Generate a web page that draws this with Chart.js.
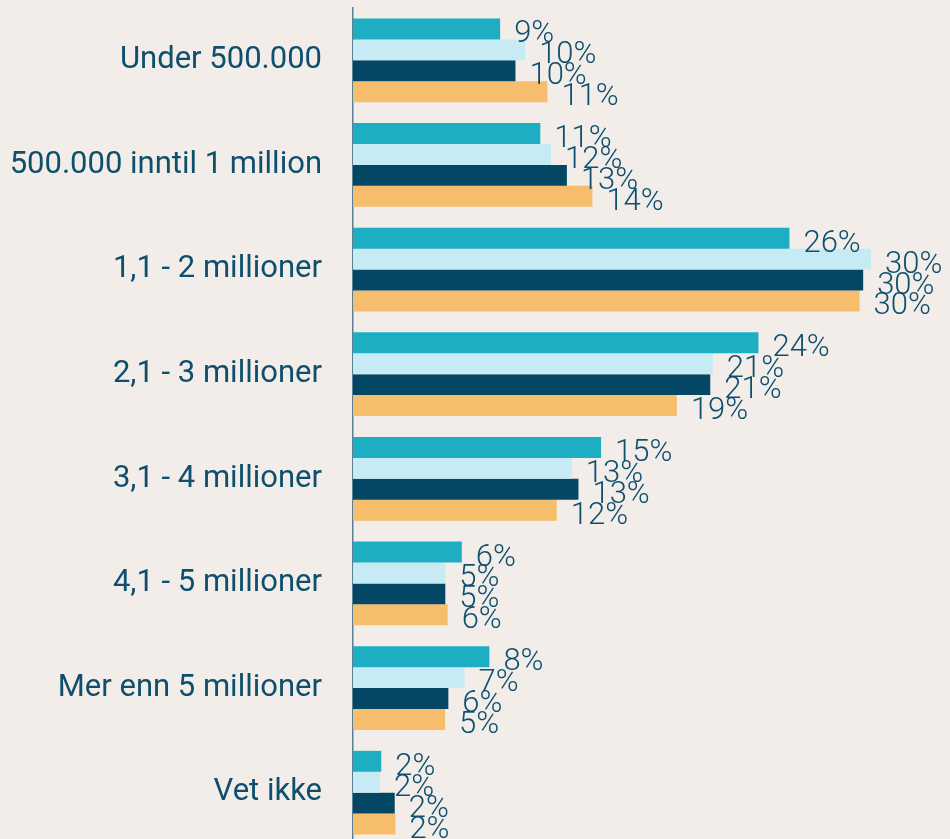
<!DOCTYPE html>
<html>
<head>
<meta charset="utf-8">
<script src="https://cdn.jsdelivr.net/npm/chart.js@4.4.1/dist/chart.umd.min.js"></script>
<style>
  html, body { margin: 0; padding: 0; background: #f2ede9; overflow: hidden; }
  #wrap { position: absolute; left: 0; top: 0; width: 950px; height: 845px; }
</style>
</head>
<body>
<div id="wrap"><canvas id="c"></canvas></div>
<script>
const categories = ["Under 500.000", "500.000 inntil 1 million", "1,1 - 2 millioner", "2,1 - 3 millioner",
                    "3,1 - 4 millioner", "4,1 - 5 millioner", "Mer enn 5 millioner", "Vet ikke"];
const series1 = [8.64, 11.0, 25.63, 23.81, 14.57, 6.39, 8.01, 1.66];
const series2 = [10.11, 11.63, 30.42, 21.13, 12.85, 5.42, 6.55, 1.59];
const series3 = [9.54, 12.56, 29.96, 20.98, 13.24, 5.42, 5.60, 2.45];
const series4 = [11.42, 14.06, 29.75, 19.02, 11.97, 5.56, 5.41, 2.49];
const seriesNames = ["Serie 1", "Serie 2", "Serie 3", "Serie 4"];
const colors = ["#1eaec3", "#c6ebf4", "#034764", "#f6bd6d"];
const textColor = "#0f4f6e";

const valueLabels = {
  id: 'valueLabels',
  afterDatasetsDraw(chart) {
    const ctx = chart.ctx;
    ctx.save();
    ctx.font = '300 31px Roboto';
    ctx.fillStyle = textColor;
    ctx.textAlign = 'left';
    ctx.textBaseline = 'alphabetic';
    chart.data.datasets.forEach((ds, i) => {
      const meta = chart.getDatasetMeta(i);
      meta.data.forEach((el, j) => {
        const v = ds.data[j];
        ctx.fillText(Math.round(v) + '%', el.x + 14, el.y + 13.5);
      });
    });
    ctx.restore();
  }
};

new Chart(document.getElementById('c'), {
  type: 'bar',
  data: {
    labels: categories,
    datasets: [series1, series2, series3, series4].map((d, i) => ({
      label: seriesNames[i],
      data: d,
      backgroundColor: colors[i],
      borderWidth: 0,
      categoryPercentage: 0.8,
      barPercentage: 1.0
    }))
  },
  options: {
    indexAxis: 'y',
    responsive: true,
    maintainAspectRatio: false,
    animation: false,
    layout: { padding: { top: 8, right: 1, bottom: 0, left: 0 } },
    plugins: { legend: { display: false }, tooltip: { enabled: false } },
    scales: {
      x: { display: false, min: 0, max: 35 },
      y: {
        grid: { display: false, drawTicks: false },
        border: { display: true, color: '#5b7f93', width: 1.5 },
        ticks: { color: textColor, font: { family: 'Roboto', size: 31 }, padding: 31 },
        afterFit(scale) { scale.width = 353; scale.paddingTop = 0; scale.paddingBottom = 0; }
      }
    }
  },
  plugins: [valueLabels]
});
</script>
</body>
</html>
